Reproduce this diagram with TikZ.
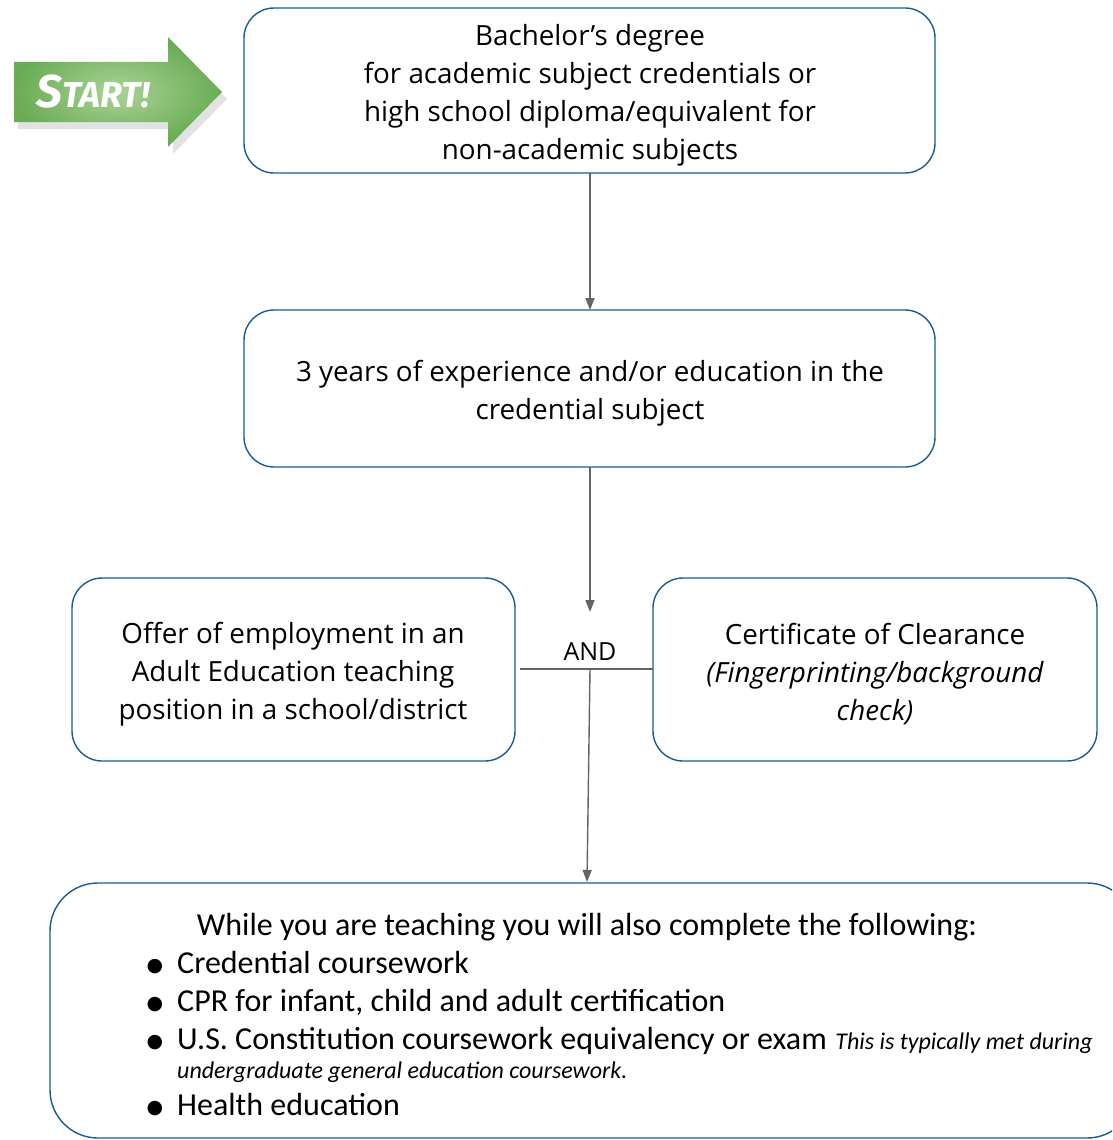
\documentclass[tikz,border=0pt]{standalone}
\usepackage{fontspec}
\setmainfont{Open Sans}
\newfontfamily\calfont{Carlito}
\newfontfamily\symfont{DejaVu Sans}
\newfontfamily\startfont{Fira Sans}
\usetikzlibrary{arrows.meta,shadows,positioning}
\definecolor{boxblue}{RGB}{24,92,145}
\definecolor{lnk}{RGB}{100,100,100}
\definecolor{grA}{RGB}{142,196,116}
\definecolor{grB}{RGB}{106,172,84}
\begin{document}
\begin{tikzpicture}[x=1pt,y=-1pt,
  box/.style={draw=boxblue,line width=1.4pt,rounded corners=30pt},
  txt/.style={align=center,font=\fontsize{27.8}{38}\selectfont,inner sep=0pt},
  lk/.style={draw=lnk,line width=1.4pt},
  arr/.style={lk,-{Triangle[length=12pt,width=9pt]}}]
\useasboundingbox (0,0) rectangle (1112,1140);
\begin{scope}
\clip (0,0) rectangle (1112,1140);
% start arrow
\fill[black!25,opacity=0.45] (18,69) -- (173,69) -- (173,44) -- (227,99) -- (173,154) -- (173,129) -- (18,129) -- cycle;
\shade[inner color=grA!75!white,outer color=grB] (14,62) -- (168,62) -- (168,37) -- (222,92) -- (168,147) -- (168,122) -- (14,122) -- cycle;
\node[text=white,font=\startfont\bfseries\itshape] (st) at (93,92) {{\fontsize{46}{46}\selectfont S}{\fontsize{36}{36}\selectfont TART!}};
% boxes
\draw[box] (244,8) rectangle (935,173);
\node[txt] (b1) at (590,95) {Bachelor’s degree\\for academic subject credentials or\\high school diploma/equivalent for\\non-academic subjects};
\coordinate (b1s) at (590,173);
\coordinate (b2n) at (590,310);
\draw[box] (244,310) rectangle (935,467);
\node[txt] (b2) at (590,393) {3 years of experience and/or education in the\\credential subject};
\coordinate (b2s) at (590,467);
\coordinate (andtop) at (590,612);
\draw[box] (72,578) rectangle (515,761);
\node[txt] (left) at (293,674) {Offer of employment in an\\Adult Education teaching\\position in a school/district};
\draw[box] (653,578) rectangle (1097,761);
\node[txt] (right) at (875,674) {Certificate of Clearance\\{\itshape (Fingerprinting/background}\\{\itshape check)}};
\node[font=\fontsize{25}{25}\selectfont,inner sep=0pt] (and) at (590,652) {AND};
\coordinate (hl) at (520,669);
\coordinate (hr) at (653,669);
\coordinate (jn) at (590,669);
\coordinate (b3n) at (587,882);
\draw[lk] (hl) -- (hr);
\draw[arr] (b1s) -- (b2n);
\draw[arr] (b2s) -- (andtop);
\draw[arr] (jn) -- (b3n);
% bottom box
\draw[box,rounded corners=48pt] (50,883) rectangle (1135,1138);
\node[font=\calfont\fontsize{32}{32}\selectfont,inner sep=0pt,anchor=base] (t3) at (587,935) {While you are teaching you will also complete the following:};
\foreach \yy/\tt [count=\i] in {973/Credential coursework,1011/{CPR for infant, child and adult certification},1049/{U.S. Constitution coursework equivalency or exam},1115/Health education}{
  \node[font=\symfont\fontsize{19}{19}\selectfont,inner sep=0pt,anchor=base] (bul\i) at (155,\yy-2) {●};
  \node[font=\calfont\fontsize{32}{32}\selectfont,inner sep=0pt,anchor=base west] (it\i) at (177,\yy) {\tt};
}
\node[font=\calfont\itshape\fontsize{24}{24}\selectfont,inner sep=0pt,anchor=base west] (note1) at ([xshift=8pt]it3.base east) {This is typically met during};
\node[font=\calfont\itshape\fontsize{24}{24}\selectfont,inner sep=0pt,anchor=base west] (note2) at (177,1078) {undergraduate general education coursework.};
\end{scope}
\end{tikzpicture}
\end{document}
